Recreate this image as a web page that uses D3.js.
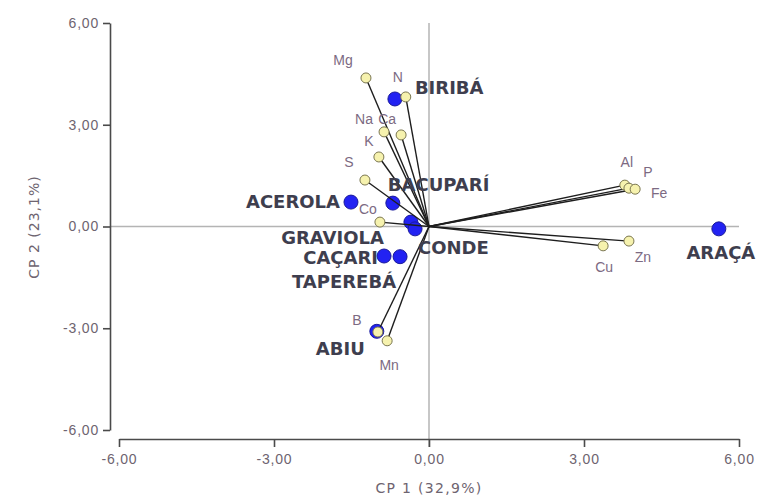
<!DOCTYPE html>
<html>
<head>
<meta charset="utf-8">
<script src="https://cdn.jsdelivr.net/npm/d3@7"></script>
<style>
    html, body { margin: 0; padding: 0; background: #fff; }
    svg { display: block; font-family: "DejaVu Sans", sans-serif; }
</style>
</head>
<body>
<div id="chart"></div>
<script>
//====================================
//data
var fruitNames = ['BIRIBÁ', 'BACUPARÍ', 'ACEROLA', 'GRAVIOLA', 'CONDE', 'CAÇARI', 'TAPEREBÁ', 'ABIU', 'ARAÇÁ'];
var fruitCP1 = [-0.66, -0.70, -1.51, -0.35, -0.27, -0.87, -0.56, -1.01, 5.61];
var fruitCP2 = [3.76, 0.69, 0.72, 0.13, -0.07, -0.87, -0.89, -3.09, -0.07];

var varNames = ['Mg', 'N', 'Na', 'Ca', 'K', 'S', 'Co', 'Al', 'P', 'Fe', 'Zn', 'Cu', 'B', 'Mn'];
var varCP1 = [-1.22, -0.45, -0.87, -0.54, -0.97, -1.24, -0.95, 3.79, 3.87, 3.99, 3.87, 3.37, -0.99, -0.81];
var varCP2 = [4.38, 3.82, 2.79, 2.70, 2.05, 1.37, 0.13, 1.22, 1.13, 1.10, -0.43, -0.57, -3.11, -3.37];

var tickValues = [-6, -3, 0, 3, 6];
var xTitle = 'CP 1 (32,9%)';
var yTitle = 'CP 2 (23,1%)';

(function(){
    "use strict";

    var width = 757, height = 497;

    //label placement (pixels from the point): [anchor, dx, dy]
    var fruitLabelPos = {
        'BIRIBÁ': ['start', 20, -5],
        'BACUPARÍ': ['start', -5, -12],
        'ACEROLA': ['end', -11, 6],
        'GRAVIOLA': ['end', -27, 22],
        'CONDE': ['start', 3, 25],
        'CAÇARI': ['end', -6, 8],
        'TAPEREBÁ': ['end', -4, 31],
        'ABIU': ['end', -12, 24],
        'ARAÇÁ': ['middle', 2, 30]
    };
    var varLabelPos = {
        'Mg': [-23, -13], 'N': [-8, -15], 'Na': [-20, -8], 'Ca': [-14, -11],
        'K': [-10, -11], 'S': [-16, -13], 'Co': [-12, -8], 'Al': [2, -18],
        'P': [19, -11], 'Fe': [24, 9], 'Zn': [14, 21], 'Cu': [1, 26],
        'B': [-21, -7], 'Mn': [2, 29]
    };

    var x = d3.scaleLinear().domain([-6, 6]).range([119, 739]);
    var y = d3.scaleLinear().domain([-6, 6]).range([430, 23]);

    //comma decimals and a plain hyphen for negatives
    var fmt = function(d){ return d3.format('.2f')(d).replace('.', ',').replace('\u2212', '-'); };

    var svg = d3.select('#chart').append('svg')
        .attr('width', width)
        .attr('height', height);

    //crosshair through the origin
    svg.append('line')
        .attr('x1', x(0)).attr('x2', x(0))
        .attr('y1', y(6)).attr('y2', 447)
        .attr('stroke', '#b4b4b4').attr('stroke-width', 1.5);
    svg.append('line')
        .attr('x1', 110).attr('x2', x(6))
        .attr('y1', y(0)).attr('y2', y(0))
        .attr('stroke', '#b4b4b4').attr('stroke-width', 1.5);

    //axes
    var xAxis = svg.append('g')
        .attr('transform', 'translate(0,439)')
        .call(d3.axisBottom(x).tickValues(tickValues).tickFormat(fmt).tickSizeInner(8).tickSizeOuter(0).tickPadding(7));
    var yAxis = svg.append('g')
        .attr('transform', 'translate(110,0)')
        .call(d3.axisLeft(y).tickValues(tickValues).tickFormat(fmt).tickSizeInner(7).tickSizeOuter(0).tickPadding(4));

    [xAxis, yAxis].forEach(function(ax){
        ax.select('.domain').attr('stroke', '#4a4a4a').attr('stroke-width', 1.6);
        ax.selectAll('.tick line').attr('stroke', '#4a4a4a').attr('stroke-width', 1.6);
        ax.selectAll('.tick text')
            .attr('fill', '#6e6470')
            .style('font-size', '14px')
            .style('letter-spacing', '0.8px');
    });

    //axis titles
    svg.append('text')
        .attr('x', 429).attr('y', 493)
        .attr('text-anchor', 'middle')
        .attr('fill', '#6e6470')
        .style('font-size', '14px')
        .style('letter-spacing', '1.3px')
        .text(xTitle);
    svg.append('text')
        .attr('transform', 'translate(39,227) rotate(-90)')
        .attr('text-anchor', 'middle')
        .attr('fill', '#6e6470')
        .style('font-size', '14px')
        .style('letter-spacing', '1px')
        .text(yTitle);

    var fruits = fruitNames.map(function(n, i){ return {name: n, cp1: fruitCP1[i], cp2: fruitCP2[i]}; });
    var vars = varNames.map(function(n, i){ return {name: n, cp1: varCP1[i], cp2: varCP2[i]}; });

    //fruit scores (blue)
    svg.append('g').selectAll('circle')
        .data(fruits)
        .enter().append('circle')
        .attr('cx', function(d){ return x(d.cp1); })
        .attr('cy', function(d){ return y(d.cp2); })
        .attr('r', 7)
        .attr('fill', '#2222f2')
        .attr('stroke', '#1a1a9a')
        .attr('stroke-width', 1);

    //loading vectors
    svg.append('g').selectAll('line')
        .data(vars)
        .enter().append('line')
        .attr('x1', x(0)).attr('y1', y(0))
        .attr('x2', function(d){ return x(d.cp1); })
        .attr('y2', function(d){ return y(d.cp2); })
        .attr('stroke', '#1e1e1e')
        .attr('stroke-width', 1.4);

    svg.append('g').selectAll('circle')
        .data(vars)
        .enter().append('circle')
        .attr('cx', function(d){ return x(d.cp1); })
        .attr('cy', function(d){ return y(d.cp2); })
        .attr('r', 5)
        .attr('fill', '#f6f2ae')
        .attr('stroke', '#7a7650')
        .attr('stroke-width', 1);

    //labels
    svg.append('g').selectAll('text')
        .data(vars)
        .enter().append('text')
        .attr('x', function(d){ return x(d.cp1) + varLabelPos[d.name][0]; })
        .attr('y', function(d){ return y(d.cp2) + varLabelPos[d.name][1]; })
        .attr('text-anchor', 'middle')
        .attr('fill', '#7c6a82')
        .style('font-family', '"Liberation Sans", Arial, sans-serif')
        .style('font-size', '14px')
        .text(function(d){ return d.name; });

    svg.append('g').selectAll('text')
        .data(fruits)
        .enter().append('text')
        .attr('x', function(d){ return x(d.cp1) + fruitLabelPos[d.name][1]; })
        .attr('y', function(d){ return y(d.cp2) + fruitLabelPos[d.name][2]; })
        .attr('text-anchor', function(d){ return fruitLabelPos[d.name][0]; })
        .attr('fill', '#3e3e4e')
        .style('font-size', '18px')
        .style('font-weight', 'bold')
        .text(function(d){ return d.name; });
})();
</script>
</body>
</html>
